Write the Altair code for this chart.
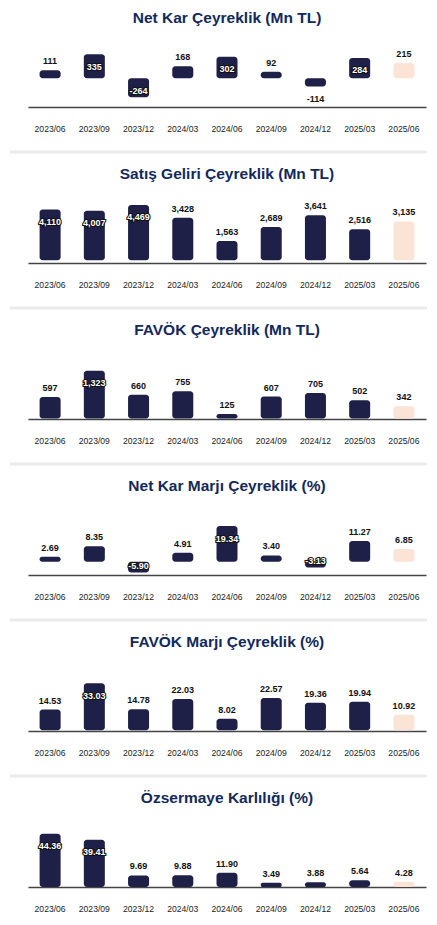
import altair as alt
import pandas as pd

quarters = ["2023/06", "2023/09", "2023/12", "2024/03", "2024/06",
            "2024/09", "2024/12", "2025/03", "2025/06"]

titles = ["Net Kar Çeyreklik (Mn TL)", "Satış Geliri Çeyreklik (Mn TL)",
          "FAVÖK Çeyreklik (Mn TL)", "Net Kar Marjı Çeyreklik (%)",
          "FAVÖK Marjı Çeyreklik (%)", "Özsermaye Karlılığı (%)"]

net_kar = [111, 335, -264, 168, 302, 92, -114, 284, 215]
satis_geliri = [4110, 4007, 4469, 3428, 1563, 2689, 3641, 2516, 3135]
favok = [597, 1323, 660, 755, 125, 607, 705, 502, 342]
net_kar_marji = [2.69, 8.35, -5.90, 4.91, 19.34, 3.40, -3.13, 11.27, 6.85]
favok_marji = [14.53, 33.03, 14.78, 22.03, 8.02, 22.57, 19.36, 19.94, 10.92]
ozsermaye = [44.36, 39.41, 9.69, 9.88, 11.90, 3.49, 3.88, 5.64, 4.28]

# whether the value label sits inside the bar (white, outlined)
in_net_kar = [0, 1, 1, 0, 1, 0, 0, 1, 0]
in_satis = [1, 1, 1, 0, 0, 0, 0, 0, 0]
in_favok = [0, 1, 0, 0, 0, 0, 0, 0, 0]
in_net_marj = [0, 0, 1, 0, 1, 0, 1, 0, 0]
in_favok_marj = [0, 1, 0, 0, 0, 0, 0, 0, 0]
in_ozs = [1, 1, 0, 0, 0, 0, 0, 0, 0]

series = [net_kar, satis_geliri, favok, net_kar_marji, favok_marji, ozsermaye]
insides = [in_net_kar, in_satis, in_favok, in_net_marj, in_favok_marj, in_ozs]
decimals = [0, 0, 0, 2, 2, 2]
domains = [[-401, 577], [-218, 5432], [-14, 1923], [-7.2, 30.76], [-0.5, 48.6], [0, 58.4]]

NAVY = "#1f2048"
PEACH = "#fbe4d6"
FONT = "Liberation Sans"
W = 398
H = 70


def fmt(v, d):
    if d == 0:
        return f"{v:,.0f}"
    return f"{v:.{d}f}"


def panel(title, vals, inside, dom, d, sep):
    df = pd.DataFrame({
        "q": quarters,
        "v": vals,
        "inside": inside,
        "label": [fmt(v, d) for v in vals],
    })
    base = alt.Chart(df)
    x = alt.X("q:N", sort=quarters, title=None,
              scale=alt.Scale(paddingInner=0.525, paddingOuter=0.2625),
              axis=alt.Axis(labelAngle=0, ticks=False, labelPadding=17,
                            labelFont=FONT, labelFontSize=8.6, labelColor="#222",
                            domainColor="#444", domainWidth=1.3, grid=False))
    y = alt.Y("v:Q", title=None, axis=None,
              scale=alt.Scale(domain=dom, nice=False, zero=False))
    bars = base.mark_bar(cornerRadius=3).encode(
        x=x, y=y, y2=alt.datum(0),
        color=alt.condition(alt.datum.q == "2025/06", alt.value(PEACH), alt.value(NAVY)),
    )
    txt = dict(font=FONT, fontSize=9, fontWeight="bold", baseline="middle", align="center")
    out_pos = base.transform_filter("datum.inside == 0 && datum.v >= 0").mark_text(
        dy=-9, color="#111", **txt).encode(x=x, y=y, text="label:N")
    out_neg = base.transform_filter("datum.inside == 0 && datum.v < 0").mark_text(
        dy=12.5, color="#111", **txt).encode(x=x, y=y, text="label:N")
    in_pos_o = base.transform_filter("datum.inside == 1 && datum.v >= 0").mark_text(
        dy=12.5, color="#111", stroke="#111", strokeWidth=2.2, **txt).encode(x=x, y=y, text="label:N")
    in_pos = base.transform_filter("datum.inside == 1 && datum.v >= 0").mark_text(
        dy=12.5, color="#ffffff", **txt).encode(x=x, y=y, text="label:N")
    in_neg_o = base.transform_filter("datum.inside == 1 && datum.v < 0").mark_text(
        dy=-6.5, color="#111", stroke="#111", strokeWidth=2.2, **txt).encode(x=x, y=y, text="label:N")
    in_neg = base.transform_filter("datum.inside == 1 && datum.v < 0").mark_text(
        dy=-6.5, color="#ffffff", **txt).encode(x=x, y=y, text="label:N")
    layers = [bars, out_pos, out_neg, in_pos_o, in_pos, in_neg_o, in_neg]
    if sep:
        rule = alt.Chart(pd.DataFrame({"s": [0]})).mark_rule(
            color="#ebebeb", strokeWidth=3).encode(
            x=alt.value(-18.5), x2=alt.value(W + 1), y=alt.value(H + 45))
        layers.append(rule)
    return alt.layer(*layers).properties(
        width=W, height=H,
        title=alt.TitleParams(title, font=FONT, fontSize=15.5, fontWeight="bold",
                              color="#13295b", anchor="middle", frame="group", offset=11),
    )


panels = [panel(t, v, i, dm, d, k < 5)
          for k, (t, v, i, dm, d) in enumerate(zip(titles, series, insides, domains, decimals))]

chart = alt.vconcat(*panels, spacing=12).properties(
    padding={"left": 0, "top": 2, "right": 0, "bottom": 0}
).configure(background="white").configure_view(strokeWidth=0)

chart.save("out.html", embed_options={"renderer": "svg", "actions": False})
